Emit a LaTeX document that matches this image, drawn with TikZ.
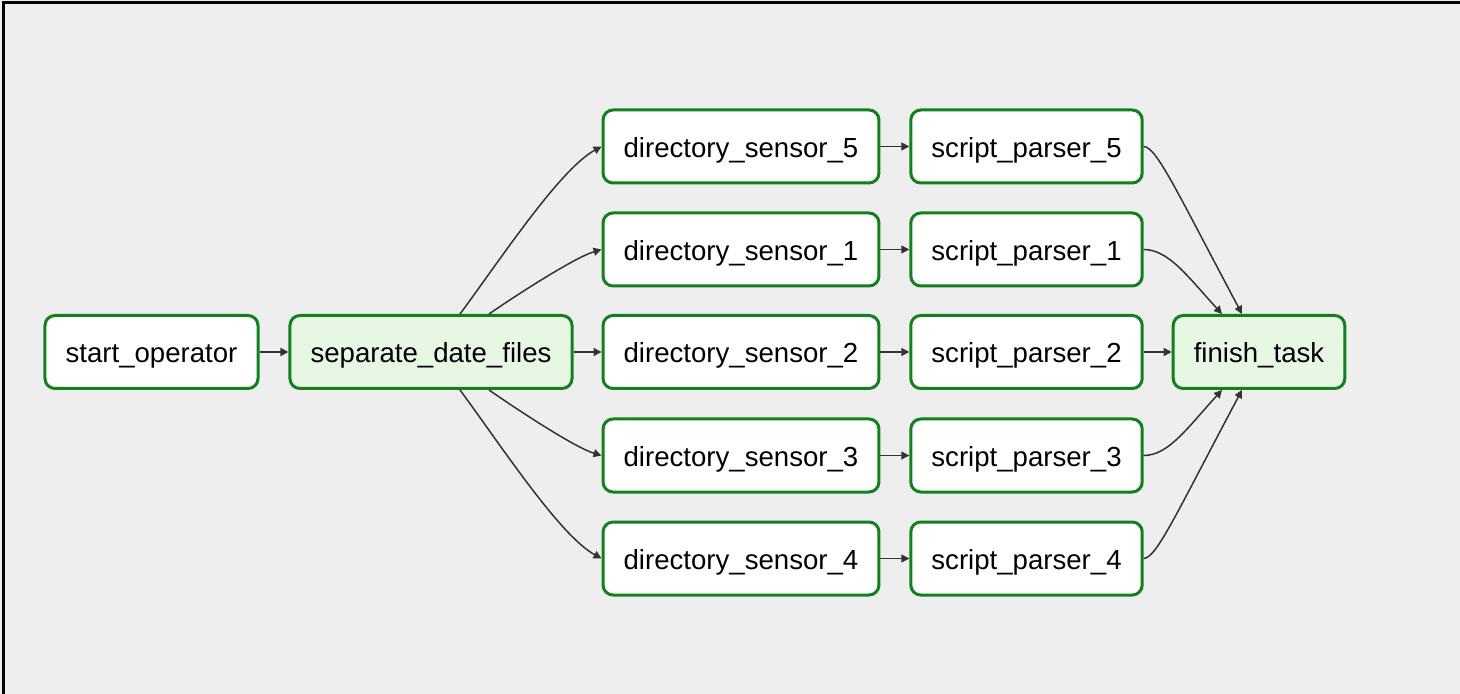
\documentclass[tikz,border=0pt]{standalone}
\usepackage{fontspec}
\setmainfont{Liberation Sans}
\usetikzlibrary{arrows.meta}
\definecolor{canvas}{HTML}{EEEEEE}
\definecolor{taskgreen}{HTML}{12801C}
\definecolor{dummyfill}{HTML}{E8F7E4}
\definecolor{linkgray}{HTML}{333333}

\begin{document}
\begin{tikzpicture}[x=0.5pt,y=-0.5pt,
    task/.style={draw=taskgreen,line width=1.5pt,rounded corners=5pt,fill=white,
      minimum height=36.5pt,inner xsep=10.3pt,text height=11pt,text depth=0pt,
      font=\fontsize{13.8}{16}\selectfont},
    dummy/.style={task,fill=dummyfill},
    link/.style={-{Triangle[length=4pt,width=4pt]},linkgray,line width=0.75pt}]
        \useasboundingbox (0,0) rectangle (1460,694);
        \fill[canvas] (0,0) rectangle (1460,694);
        \draw[line width=1.5pt] (3,694) -- (3,3) -- (1460,3);
        % tasks
        \node[task] (start) at (151.5,352) {start\_operator};
        \node[dummy] (sep) at (431,352) {separate\_date\_files};
        \node[task] (ds5) at (741,146.5) {directory\_sensor\_5};
        \node[task] (ds1) at (741,249.5) {directory\_sensor\_1};
        \node[task] (ds2) at (741,352) {directory\_sensor\_2};
        \node[task] (ds3) at (741,455.5) {directory\_sensor\_3};
        \node[task] (ds4) at (741,558.5) {directory\_sensor\_4};
        \node[task] (sp5) at (1026.5,146.5) {script\_parser\_5};
        \node[task] (sp1) at (1026.5,249.5) {script\_parser\_1};
        \node[task] (sp2) at (1026.5,352) {script\_parser\_2};
        \node[task] (sp3) at (1026.5,455.5) {script\_parser\_3};
        \node[task] (sp4) at (1026.5,558.5) {script\_parser\_4};
        \node[dummy] (finish) at (1259,352) {finish\_task};
        % links
        \draw[link] (start) -- (sep);
        \draw[link] ([xshift=14.5pt]sep.north) .. controls +(40,-54) and +(-42,23) .. (ds5.west);
        \draw[link] ([xshift=29pt]sep.north) .. controls +(26,-18) and +(-27,8) .. (ds1.west);
        \draw[link] (sep) -- (ds2);
        \draw[link] ([xshift=29pt]sep.south) .. controls +(26,18) and +(-27,-8) .. (ds3.west);
        \draw[link] ([xshift=14.5pt]sep.south) .. controls +(40,54) and +(-42,-23) .. (ds4.west);
        \draw[link] (ds5) -- (sp5);
        \draw[link] (ds1) -- (sp1);
        \draw[link] (ds2) -- (sp2);
        \draw[link] (ds3) -- (sp3);
        \draw[link] (ds4) -- (sp4);
        \draw[link] (sp5.east) .. controls +(13,1) and +(-67,-126) .. ([xshift=-8.5pt]finish.north);
        \draw[link] (sp1.east) .. controls +(25,0) and +(-34,-37) .. ([xshift=-18.5pt]finish.north);
        \draw[link] (sp2) -- (finish);
        \draw[link] (sp3.east) .. controls +(25,0) and +(-34,37) .. ([xshift=-18.5pt]finish.south);
        \draw[link] (sp4.east) .. controls +(13,-1) and +(-67,126) .. ([xshift=-8.5pt]finish.south);
      \end{tikzpicture}
\end{document}
